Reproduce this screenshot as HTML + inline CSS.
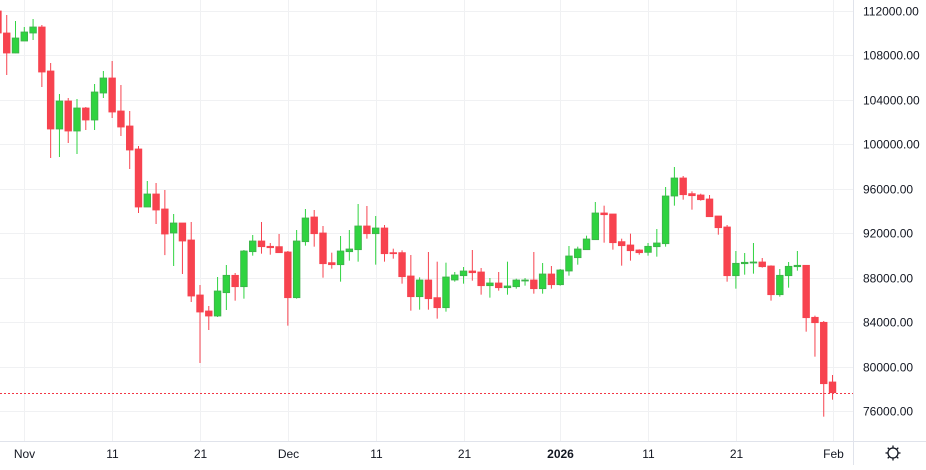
<!DOCTYPE html>
<html><head><meta charset="utf-8">
<style>
html,body{margin:0;padding:0;background:#fff;}
body{width:926px;height:465px;overflow:hidden;font-family:"Liberation Sans",sans-serif;}
svg text{font-family:"Liberation Sans",sans-serif;font-size:12px;fill:#131722;}
</style></head>
<body>
<svg id="chart" width="926" height="465" viewBox="0 0 926 465" xmlns="http://www.w3.org/2000/svg">
<g id="grid"></g>
<g id="candles"></g>
<g id="yaxis"></g>
<g id="xaxis"></g>
<g transform="translate(893,453)">
<circle r="5" fill="none" stroke="#131722" stroke-width="1.3"/>
<g stroke="#131722" stroke-width="1.3">
<line x1="0" y1="-5" x2="0" y2="-7.5"/><line x1="0" y1="5" x2="0" y2="7.5"/>
<line x1="-5" y1="0" x2="-7.5" y2="0"/><line x1="5" y1="0" x2="7.5" y2="0"/>
<line x1="3.5" y1="3.5" x2="5.3" y2="5.3"/><line x1="-3.5" y1="-3.5" x2="-5.3" y2="-5.3"/>
<line x1="3.5" y1="-3.5" x2="5.3" y2="-5.3"/><line x1="-3.5" y1="3.5" x2="-5.3" y2="5.3"/>
</g></g>
</svg>
<script>
// Daily candles starting Oct 29
const opens  = [112000,110020,108220,109300,110020,110560,106600,101380,103900,101200,103270,102190,104620,105970,103000,101650,99580,94360,95530,94180,92020,92920,91390,86440,85000,84550,86650,88210,87190,90340,91300,90820,90790,90310,86200,91240,93460,92020,89350,89170,90340,90520,92650,91960,92470,90250,90250,88150,86290,87790,86200,85300,87790,88180,88600,88510,87280,87520,87100,87190,87760,87790,87010,88330,87370,88600,89800,90520,91420,93820,93730,91240,90940,90490,90280,90790,91060,95350,96970,95560,95440,95080,93550,92560,88180,89260,89350,89410,89050,86470,88180,88990,89110,84430,83980,78610];
const highs  = [112300,111640,111100,110560,111280,110740,107320,104530,104170,104080,103360,105430,106600,107500,105340,103000,99850,96700,96520,95890,93730,92920,93010,87340,85450,88060,89140,88420,90490,91840,93010,91120,91930,90400,92290,94180,94090,92650,90250,91750,92290,94630,94450,93550,92740,90610,90460,90040,88030,90310,89440,89350,88510,88960,90490,88870,87970,88510,89440,87910,87970,90310,89320,89050,88780,90850,90790,91780,94810,94480,93730,91510,91960,90550,91120,92380,96160,97960,97150,95770,95560,95440,93550,92740,90400,90220,91120,89770,89110,88780,89410,90400,89110,84580,84100,79240];
const lows   = [109800,106240,108200,109300,109390,105160,98770,98860,100120,99130,101290,101290,104170,102370,100750,97780,93820,94360,92830,90030,89050,88330,85810,80320,83290,84460,85090,85930,86110,89980,90160,90070,90250,83680,86110,90880,90790,88000,88810,87640,89530,89440,91510,89170,89440,89710,87460,85030,85120,85120,84310,84940,87640,87460,87730,86470,86200,86830,86470,87010,87280,86560,86560,87010,87280,88180,89170,90520,91420,91150,90520,89080,89530,90070,89980,89890,90790,94480,95020,94120,94930,93490,91870,87640,87010,88270,88360,88900,85930,86290,87100,88630,83140,80890,75490,77020];
const closes = [110020,108220,109570,110110,110560,106510,101380,103900,101200,103270,102190,104710,105970,102910,101560,99490,94360,95530,94090,91930,92920,91300,86350,84910,84550,86800,88210,87190,90400,91300,90790,90700,90250,86200,91300,93370,91960,89260,89170,90400,90580,92650,91960,92470,90160,90190,88090,86290,87790,86110,85300,88060,88240,88600,88450,87280,87520,87100,87250,87790,87790,87010,88330,87370,88690,89950,90580,91480,93820,93670,91150,90880,90430,90250,90820,91120,95350,96970,95470,95380,95020,93490,92500,88180,89290,89380,89410,88990,86470,88210,89020,89110,84400,83950,78460,77650];
const priceTicks = [112000,108000,104000,100000,96000,92000,88000,84000,80000,76000];
const timeLabels = ["Nov","11","21","Dec","11","21","2026","11","21","Feb"];
const timeLabelIdx = [3,13,23,33,43,53,64,74,84,95];
const lastPrice = 77650;

const NS="http://www.w3.org/2000/svg";
const PL=853, PB=441;
const yS=p=>11+(112000-p)/90;
const xS=i=>24.3+(i-3)*8.785;
function mk(tag,attrs,parent){const e=document.createElementNS(NS,tag);for(const k in attrs)e.setAttribute(k,attrs[k]);parent.appendChild(e);return e;}
const grid=document.getElementById('grid'),cg=document.getElementById('candles'),ya=document.getElementById('yaxis'),xa=document.getElementById('xaxis');

priceTicks.forEach(p=>{
  const y=Math.round(yS(p))+0.5;
  const l=mk('line',{x1:0,x2:PL,y1:y,y2:y,stroke:'#f0f1f3','stroke-width':1},grid);
  
  
  const t=mk('text',{x:863,y:y+4},ya);
  t.textContent=p.toFixed(2);
  
  
});
timeLabels.forEach((s,k)=>{
  const x=Math.round(xS(timeLabelIdx[k]))+0.5;
  const l=mk('line',{x1:x,x2:x,y1:0,y2:PB,stroke:'#f0f1f3','stroke-width':1},grid);
  
  
  const t=mk('text',{x:x,y:458,'text-anchor':'middle'},xa);
  if(s==='2026')t.setAttribute('font-weight','bold');
  t.textContent=s;
  
  
});
mk('line',{x1:PL+0.5,x2:PL+0.5,y1:0,y2:465,stroke:'#e0e3eb'},grid);
mk('line',{x1:0,x2:926,y1:PB+0.5,y2:PB+0.5,stroke:'#e0e3eb'},grid);

opens.forEach((o,i)=>{
  const c=closes[i],h=highs[i],l=lows[i];
  const up=c>=o;
  const x=xS(i);
  const col=up?'#2fd340':'#f7434f', bd=up?'#3fae4b':'#f7434f';
  const g=mk('g',{},cg);
  
  
  mk('line',{x1:x,x2:x,y1:yS(h),y2:yS(l),stroke:col,'stroke-width':1},g);
  const top=yS(Math.max(o,c)),bot=yS(Math.min(o,c));
  mk('rect',{x:x-3.3,y:top,width:6.6,height:Math.max(1,bot-top),fill:col,stroke:bd,'stroke-width':0.8},g);
});
const ly=Math.round(yS(lastPrice))+0.5;
const pl=mk('line',{x1:0,x2:PL,y1:ly,y2:ly,stroke:'#f23645','stroke-width':1,'stroke-dasharray':'2,2','shape-rendering':'crispEdges'},cg);


</script>
</body></html>
